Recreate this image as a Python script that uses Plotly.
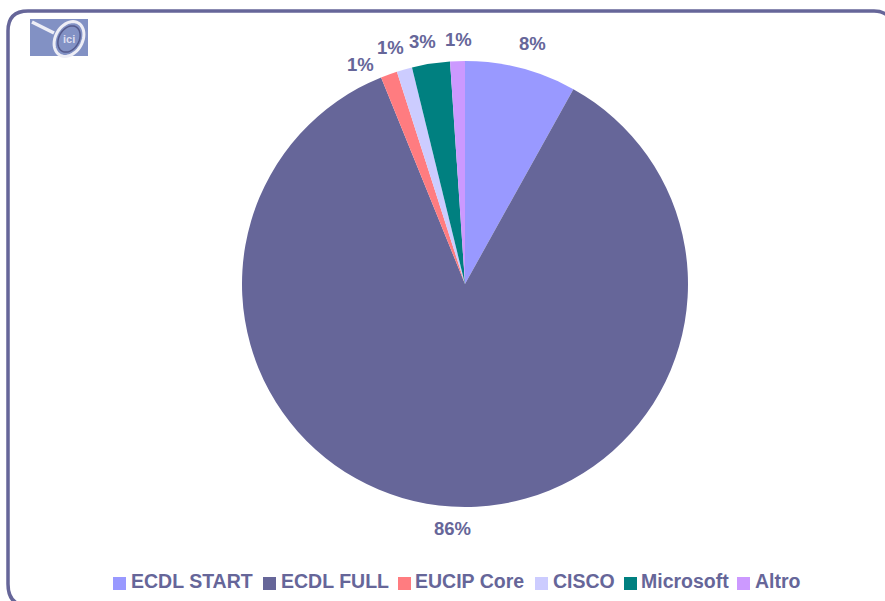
import math
import plotly.graph_objects as go

W, H = 885, 601
categories = ["ECDL START", "ECDL FULL", "EUCIP Core", "CISCO", "Microsoft", "Altro"]
values = [8.08, 85.78, 1.2, 1.12, 2.75, 1.07]
colors = ["#9999FF", "#666699", "#FF7C80", "#CCCCFF", "#008080", "#CC99FF"]
INK = "#666699"
FONT = "Liberation Sans"

# Layout of the hand-placed labels, in page pixels
label_centres = [(532, 43.5), (452, 528.5), (360, 64.5), (390, 47.5), (422, 41.5), (458, 39.5)]
legend_swatch_x = [113, 263, 398, 535, 624, 737]
legend_text_x = [129, 279, 413, 551, 639, 753]


def px(x):
    return x / W


def py(y):
    return 1 - y / H


def ellipse_path(cx, cy, rx, ry, tilt_deg, n=48):
    t = math.radians(tilt_deg)
    pts = []
    for i in range(n):
        a = 2 * math.pi * i / n
        x = rx * math.cos(a)
        y = ry * math.sin(a)
        pts.append((cx + x * math.cos(t) - y * math.sin(t), cy + x * math.sin(t) + y * math.cos(t)))
    return "M " + " L ".join(f"{px(x):.5f} {py(y):.5f}" for x, y in pts) + " Z"


fig = go.Figure(go.Pie(
    labels=categories, values=values, sort=False, direction="clockwise", rotation=0,
    marker=dict(colors=colors, line=dict(width=0)),
    textinfo="none", hoverinfo="label+percent", showlegend=False,
    domain=dict(x=[px(242), px(688)], y=[py(507), py(61)]),
))

shapes = [
    dict(type="path", xref="paper", yref="paper",
         path=f"M {px(29)} {py(606)} Q {px(8)} {py(606)} {px(8)} {py(584)} L {px(8)} {py(31)} "
              f"Q {px(8)} {py(11)} {px(28)} {py(11)} L {px(874)} {py(11)} "
              f"Q {px(882)} {py(11)} {px(887)} {py(15)}",
         line=dict(color=INK, width=3.5)),
    dict(type="rect", xref="paper", yref="paper", x0=px(30), x1=px(88), y0=py(56), y1=py(19),
         fillcolor="#8291C4", line=dict(width=0)),
    dict(type="line", xref="paper", yref="paper", x0=px(32), x1=px(54), y0=py(22), y1=py(33),
         line=dict(color="#EEEEF6", width=3.5)),
    dict(type="path", xref="paper", yref="paper", path=ellipse_path(69, 39, 18.5, 13.5, -60),
         line=dict(color="#EEEEF6", width=3)),
    dict(type="path", xref="paper", yref="paper", path=ellipse_path(69, 39, 14, 10, -60),
         line=dict(color="#555A8C", width=1.5)),
]

annotations = []
total = sum(values)
for v, (x, y) in zip(values, label_centres):
    annotations.append(dict(
        text=f"{v / total:.0%}", xref="paper", yref="paper", x=px(x), y=py(y),
        xanchor="center", yanchor="middle", showarrow=False,
        font=dict(family=FONT, size=18.5, color=INK, weight="bold"),
    ))
annotations.append(dict(
    text="ici", xref="paper", yref="paper", x=px(69), y=py(39),
    xanchor="center", yanchor="middle", showarrow=False,
    font=dict(family=FONT, size=11, color="#DDDDEE", weight="bold"),
))

for name, colour, sx, tx in zip(categories, colors, legend_swatch_x, legend_text_x):
    shapes.append(dict(type="rect", xref="paper", yref="paper",
                       x0=px(sx), x1=px(sx + 13), y0=py(590), y1=py(577),
                       fillcolor=colour, line=dict(width=0)))
    annotations.append(dict(
        text=name, xref="paper", yref="paper", x=px(tx), y=py(581),
        xanchor="left", yanchor="middle", showarrow=False,
        font=dict(family=FONT, size=19.5, color=INK, weight="bold"),
    ))

fig.update_layout(
    width=W, height=H, margin=dict(l=0, r=0, t=0, b=0, autoexpand=False),
    paper_bgcolor="white", plot_bgcolor="white",
    font=dict(family=FONT, size=18, color=INK),
    shapes=shapes, annotations=annotations, showlegend=False,
)
fig.write_html("out.html", config={"displayModeBar": False},
               post_script="document.body.style.margin='0';")
